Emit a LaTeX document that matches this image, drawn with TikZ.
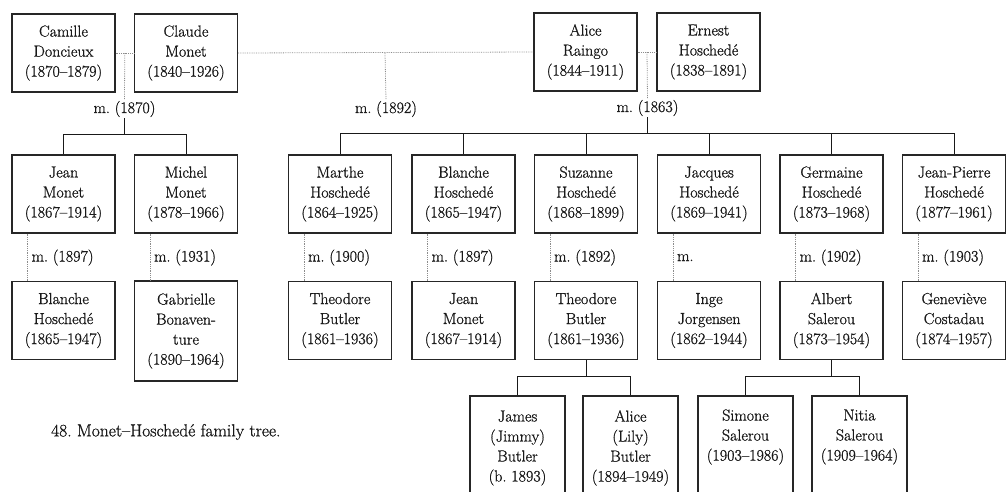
\documentclass[tikz,border=0pt]{standalone}
\usepackage{fontspec}
\setmainfont{Latin Modern Roman}[FakeBold=1.0]
\usetikzlibrary{calc}
\begin{document}
\frenchspacing
\begin{tikzpicture}[x=1pt,y=-1pt,
  every node/.style={font=\fontsize{16}{20}\selectfont\frenchspacing, text=black!90},
  person/.style={draw=black!85, line width=1.1pt, minimum width=103pt, minimum height=78pt, align=center, inner sep=2pt},
  kid/.style={person, minimum width=95pt, minimum height=104pt},
  mlabel/.style={inner sep=1pt},
  spouse/.style={densely dotted, black!45, line width=0.8pt},
  tie/.style={line width=1pt, black!90}
]
\useasboundingbox (0,0) rectangle (1006,491);
\clip (0,0) rectangle (1006,491);

% top row
\node[person] (camille) at (63.5,53) {Camille\\Doncieux\\(1870–1879)};
\node[person] (claude) at (186,53) {Claude\\Monet\\(1840–1926)};
\node[person] (alice) at (585.5,52) {Alice\\Raingo\\(1844–1911)};
\node[person] (ernest) at (708.5,52) {Ernest\\Hoschedé\\(1838–1891)};

% marriage labels
\node[mlabel] (m1870) at (124.5,109) {m. (1870)};
\node[mlabel] (m1892) at (386,109) {m. (1892)};
\node[mlabel] (m1863) at (647.5,108) {m. (1863)};

\coordinate (j1) at ($(camille.east)!0.5!(claude.west)$);
\coordinate (j2) at (385,53);
\coordinate (j3) at ($(alice.east)!0.5!(ernest.west)$);
\draw[spouse] (camille.east) -- (claude.west);
\draw[spouse] (j1) -- (m1870.north);
\draw[spouse] (claude.east) -- (alice.west);
\draw[spouse] (j2) -- (m1892.north);
\draw[spouse] (alice.east) -- (ernest.west);
\draw[spouse] (j3) -- (m1863.north);

% middle row
\node[person] (jean) at (63.5,194) {Jean\\Monet\\(1867–1914)};
\node[person] (michel) at (186,194) {Michel\\Monet\\(1878–1966)};
\node[person] (marthe) at (340,194) {Marthe\\Hoschedé\\(1864–1925)};
\node[person] (blanche) at (463.5,194) {Blanche\\Hoschedé\\(1865–1947)};
\node[person] (suzanne) at (586,194) {Suzanne\\Hoschedé\\(1868–1899)};
\node[person] (jacques) at (709,194) {Jacques\\Hoschedé\\(1869–1941)};
\node[person] (germaine) at (831.5,194) {Germaine\\Hoschedé\\(1873–1968)};
\node[person] (jeanpierre) at (954,194) {Jean-Pierre\\Hoschedé\\(1877–1961)};

\coordinate (bar1) at (124.5,134);
\draw[tie] (m1870.south) -- (bar1);
\draw[tie] (bar1) -| (jean.north);
\draw[tie] (bar1) -| (michel.north);

\coordinate (bar2) at (647.5,133);
\draw[tie] (m1863.south) -- (bar2);
\foreach \c in {marthe,blanche,suzanne,jacques,germaine,jeanpierre}
  \draw[tie] (bar2) -| (\c.north);

% bottom row (spouses)
\node[person] (blancheH) at (63.5,320.5) {Blanche\\Hoschedé\\(1865–1947)};
\node[person, minimum height=100pt] (gabrielle) at (186,331) {Gabrielle\\Bonaven-\\ture\\(1890–1964)};
\node[person] (theo1) at (340,320.5) {Theodore\\Butler\\(1861–1936)};
\node[person] (jean2) at (463.5,320.5) {Jean\\Monet\\(1867–1914)};
\node[person] (theo2) at (586,320.5) {Theodore\\Butler\\(1861–1936)};
\node[person] (inge) at (709,320.5) {Inge\\Jorgensen\\(1862–1944)};
\node[person] (albert) at (831.5,320.5) {Albert\\Salerou\\(1873–1954)};
\node[person] (genevieve) at (954,320.5) {Geneviève\\Costadau\\(1874–1957)};

% spouse connectors
\foreach \a/\b/\t in {jean/blancheH/m. (1897), michel/gabrielle/m. (1931), marthe/theo1/m. (1900), blanche/jean2/m. (1897), suzanne/theo2/m. (1892), jacques/inge/m., germaine/albert/m. (1902), jeanpierre/genevieve/m. (1903)}{
  \draw[spouse] ($(\a.south west)+(16,0)$) -- ($(\b.north west)+(16,0)$);
  \node[mlabel, anchor=west] (lab-\a) at ($(\a.south west)+(19,24)$) {\t};
}

% grandchildren
\node[kid] (james) at (517.5,448) {James\\(Jimmy)\\Butler\\(b. 1893)};
\node[kid] (lily) at (630.5,448) {Alice\\(Lily)\\Butler\\(1894–1949)};
\node[kid] (simone) at (745.5,448) {Simone\\Salerou\\(1903–1986)\\\strut};
\node[kid] (nitia) at (859.5,448) {Nitia\\Salerou\\(1909–1964)\\\strut};

\draw[tie] (theo2.south) -- ++(0,16) -| (james.north);
\draw[tie] (theo2.south) -- ++(0,16) -| (lily.north);
\draw[tie] (albert.south) -- ++(0,16) -| (simone.north);
\draw[tie] (albert.south) -- ++(0,16) -| (nitia.north);

% caption
\node[anchor=west, inner sep=0pt, font=\fontsize{17.5}{20}\selectfont\frenchspacing] (caption) at (51,432) {48. Monet–Hoschedé family tree.};
\end{tikzpicture}
\end{document}
